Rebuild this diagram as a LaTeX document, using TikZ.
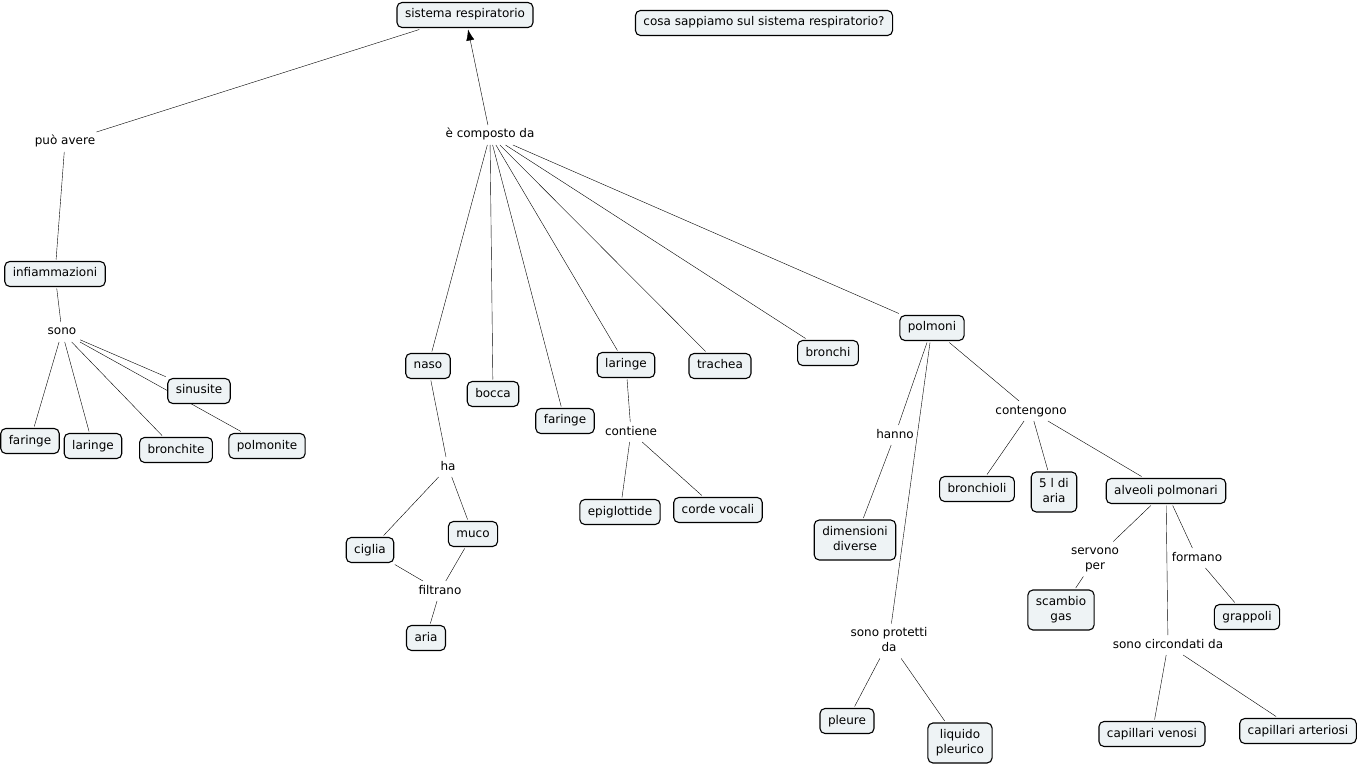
\documentclass[tikz,border=0pt]{standalone}
\usepackage{fontspec}
\setmainfont{DejaVu Sans}
\usetikzlibrary{arrows.meta,backgrounds}

\definecolor{conceptfill}{RGB}{238,243,245}

\begin{document}
\begin{tikzpicture}[x=1pt, y=-1pt, line width=1.2pt, font=\fontsize{12}{15}\selectfont,
    main/.style = {draw, line width=1.1pt, rectangle, rounded corners=5pt, fill=conceptfill, inner xsep=8pt, inner ysep=6.5pt, text height=9pt, text depth=3pt, align=center, outer sep=2pt},
    link/.style = {inner sep=1pt, outer sep=3pt, text height=9pt, text depth=3pt, align=center},
    double/.style = {text height=24pt}]
            \useasboundingbox (0,0) rectangle (1358,767);

            \node[main] (SR) at (465,15) {sistema respiratorio};
            \node[main] (QUESTION) at (764,23) {cosa sappiamo sul sistema respiratorio?};

            %left: inflammations

            \node[link] (PUO) at (65,142) {può avere};
            \node[main] (INF) at (55,274) {infiammazioni};
            \node[link] (SONO) at (62,332) {sono};
            \node[main] (FAR1) at (30,441) {faringe};
            \node[main] (LAR1) at (93,446) {laringe};
            \node[main] (BRONCHITE) at (176,450) {bronchite};
            \node[main] (SINUSITE) at (199,391) {sinusite};
            \node[main] (POLMONITE) at (267,446) {polmonite};

            %middle: parts

            \node[link] (COMP) at (490,135) {è composto da};
            \node[main] (NASO) at (428,366) {naso};
            \node[main] (BOCCA) at (493,394) {bocca};
            \node[main] (FAR2) at (565,421) {faringe};
            \node[main] (LAR2) at (626,365) {laringe};
            \node[main] (TRACHEA) at (720,366) {trachea};
            \node[main] (BRONCHI) at (828,353) {bronchi};
            \node[main] (POLMONI) at (932,328) {polmoni};

            \node[link] (HA) at (448,467) {ha};
            \node[main] (CIGLIA) at (370,550) {ciglia};
            \node[main] (MUCO) at (473,534) {muco};
            \node[link] (FILTRANO) at (440,591) {filtrano};
            \node[main] (ARIA) at (426,638) {aria};

            \node[link] (CONTIENE) at (631,432) {contiene};
            \node[main] (EPI) at (620,512) {epiglottide};
            \node[main] (CORDE) at (718,510) {corde vocali};

            %right: lungs

            \node[link] (HANNO) at (895,435) {hanno};
            \node[main, double] (DIM) at (855,540) {dimensioni\\diverse};
            \node[link] (CONTENGONO) at (1031,411) {contengono};
            \node[main] (BRONCHIOLI) at (977,489) {bronchioli};
            \node[main, double] (LITRI) at (1054,492) {5 l di\\aria};
            \node[main] (ALVEOLI) at (1166,491) {alveoli polmonari};
            \node[link, double] (PROTETTI) at (889,641) {sono protetti\\da};
            \node[main] (PLEURE) at (847,721) {pleure};
            \node[main, double] (LIQUIDO) at (960,743) {liquido\\pleurico};

            \node[link, double] (SERVONO) at (1095,559) {servono\\per};
            \node[main, double] (SCAMBIO) at (1061,610) {scambio\\gas};
            \node[link] (FORMANO) at (1197,558) {formano};
            \node[main] (GRAPPOLI) at (1247,617) {grappoli};
            \node[link] (CIRCONDATI) at (1168,645) {sono circondati da};
            \node[main] (VENOSI) at (1152,734) {capillari venosi};
            \node[main] (ARTERIOSI) at (1298,731) {capillari arteriosi};

            %connections, under the boxes

            \begin{scope}[on background layer]
            \draw (SR) -- (PUO);
            \draw (PUO) -- (INF);
            \draw (INF) -- (SONO);
            \draw (SONO) -- (FAR1);
            \draw (SONO) -- (LAR1);
            \draw (SONO) -- (BRONCHITE);
            \draw (SONO) -- (SINUSITE);
            \draw (SONO) -- (POLMONITE);

            \draw[-{Latex[length=11pt, width=8pt]}] (COMP) -- (SR);
            \draw (COMP) -- (NASO);
            \draw (COMP) -- (BOCCA);
            \draw (COMP) -- (FAR2);
            \draw (COMP) -- (LAR2);
            \draw (COMP) -- (TRACHEA);
            \draw (COMP) -- (BRONCHI);
            \draw (COMP) -- (POLMONI);

            \draw (NASO) -- (HA);
            \draw (HA) -- (CIGLIA);
            \draw (HA) -- (MUCO);
            \draw (CIGLIA) -- (FILTRANO);
            \draw (MUCO) -- (FILTRANO);
            \draw (FILTRANO) -- (ARIA);

            \draw (LAR2) -- (CONTIENE);
            \draw (CONTIENE) -- (EPI);
            \draw (CONTIENE) -- (CORDE);

            \draw (POLMONI) -- (HANNO);
            \draw (HANNO) -- (DIM);
            \draw (POLMONI) -- (CONTENGONO);
            \draw (CONTENGONO) -- (BRONCHIOLI);
            \draw (CONTENGONO) -- (LITRI);
            \draw (CONTENGONO) -- (ALVEOLI);
            \draw (POLMONI) -- (PROTETTI);
            \draw (PROTETTI) -- (PLEURE);
            \draw (PROTETTI) -- (LIQUIDO);

            \draw (ALVEOLI) -- (SERVONO);
            \draw (SERVONO) -- (SCAMBIO);
            \draw (ALVEOLI) -- (FORMANO);
            \draw (FORMANO) -- (GRAPPOLI);
            \draw (ALVEOLI) -- (CIRCONDATI);
            \draw (CIRCONDATI) -- (VENOSI);
            \draw (CIRCONDATI) -- (ARTERIOSI);
            \end{scope}
        \end{tikzpicture}
\end{document}
